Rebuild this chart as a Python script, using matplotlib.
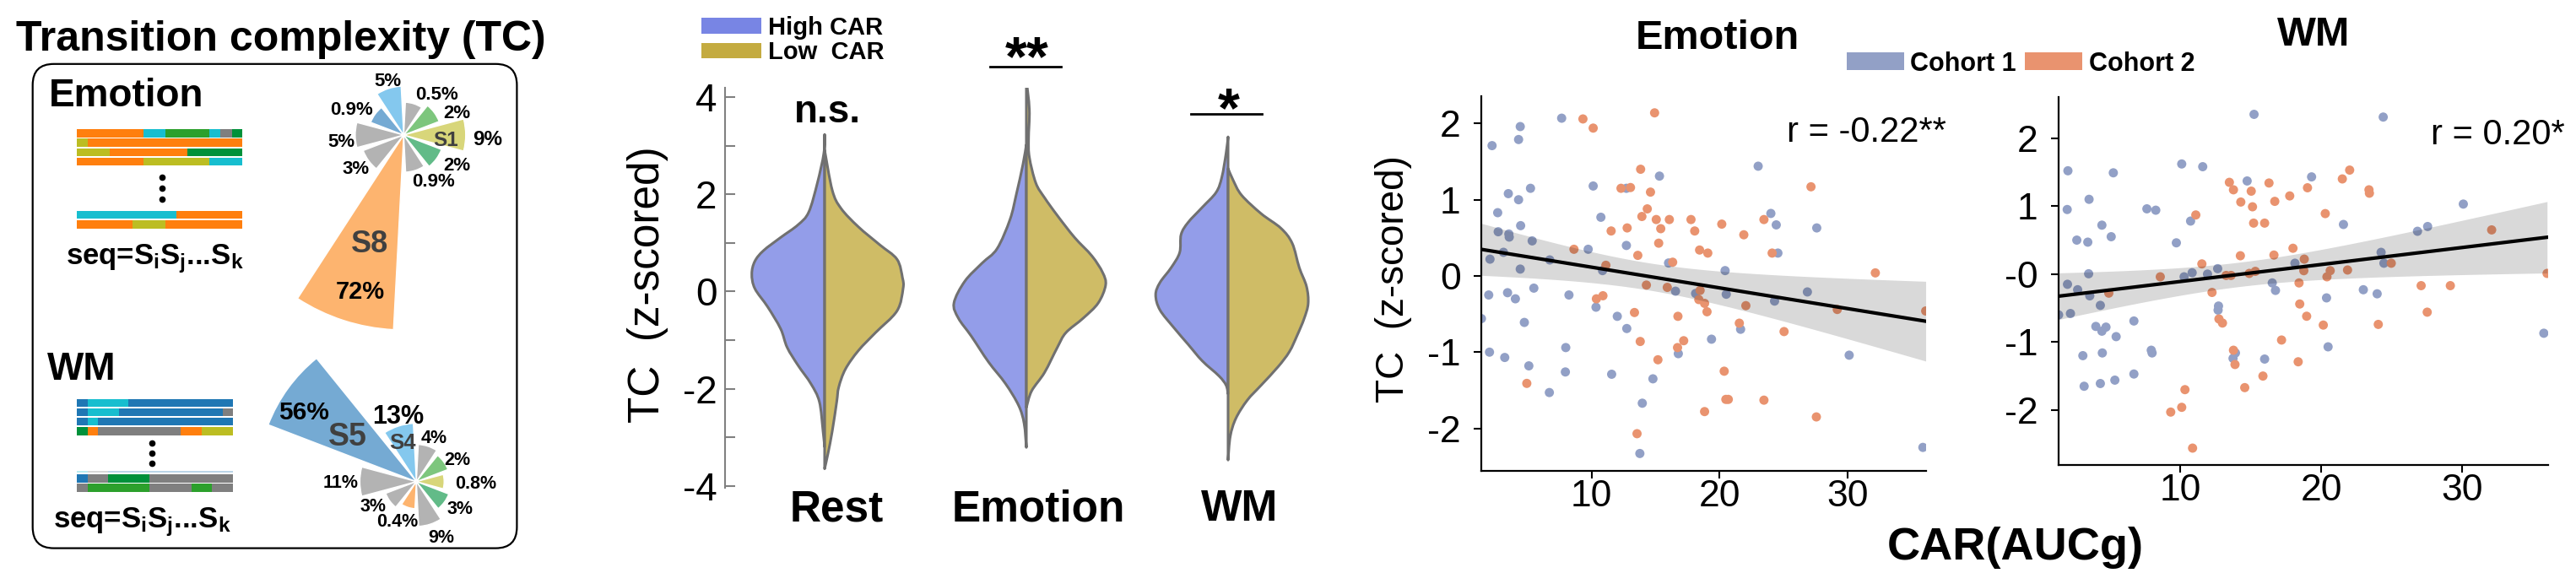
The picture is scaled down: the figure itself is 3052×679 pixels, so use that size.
import numpy as np
import matplotlib
matplotlib.use('Agg')
import matplotlib.pyplot as plt
from matplotlib.patches import Patch, FancyBboxPatch, PathPatch
from matplotlib.path import Path
import matplotlib.transforms as mtransforms
from matplotlib.colors import to_rgba

plt.rcParams['font.family'] = ['Liberation Sans', 'DejaVu Sans']
plt.rcParams['mathtext.fontset'] = 'custom'
plt.rcParams['mathtext.rm'] = 'Liberation Sans:bold'
plt.rcParams['mathtext.it'] = 'Liberation Sans:bold'
plt.rcParams['mathtext.bf'] = 'Liberation Sans:bold'

# ====================== DATA ======================
# --- left schematic: state sequences (segment boundaries as fractions, state colours)
emo_seq_bounds = [[0, .403, .536, .803, .867, .939, 1], [0, .066, 1], [0, .199, .668, 1],
                  [0, .403, .803, 1], [0, .602, 1], [0, .335, .536, 1]]
emo_seq_states = [['orange', 'cyan', 'green', 'cyan', 'gray', 'dgreen'], ['olive', 'orange'],
                  ['olive', 'orange', 'dgreen'], ['orange', 'olive', 'cyan'], ['cyan', 'orange'],
                  ['orange', 'olive', 'orange']]
wm_seq_bounds = [[0, .070, .332, 1], [0, .070, .268, .935, 1], [0, .070, .133, 1],
                 [0, .070, .133, .665, .802, 1], [0, .070, .202, .463, 1],
                 [0, .070, .463, .733, .865, 1]]
wm_seq_states = [['blue', 'cyan', 'blue'], ['blue', 'cyan', 'blue', 'gray'], ['blue', 'cyan', 'blue'],
                 ['dgreen', 'orange', 'gray', 'orange', 'olive'], ['blue', 'gray', 'dgreen', 'gray'],
                 ['gray', 'green', 'gray', 'green', 'gray']]

# --- rose charts: petal length (radial units) per 36-degree slot, labels, colours
emo_petal = [27.0, 16.5, 14.3, 21.3, 15.4, 21.1, 18.9, 84.9, 16.2, 17.6]
emo_pct = ['9%', '2%', '0.5%', '5%', '0.9%', '5%', '3%', '72%', '0.9%', '2%']
emo_petal_col = ['#d8d67a', '#7dc67d', '#b3b3b3', '#84c8ee', '#75aad3', '#b3b3b3', '#b3b3b3',
                 '#fdb46f', '#b3b3b3', '#62bb88']
wm_petal = [12.1, 14.7, 16.2, 25.4, 69.1, 24.6, 14.3, 11.8, 19.5, 15.1]
wm_pct = ['0.8%', '2%', '4%', '13%', '56%', '11%', '3%', '0.4%', '9%', '3%']
wm_petal_col = ['#d8d67a', '#7dc67d', '#b3b3b3', '#84c8ee', '#75aad3', '#b3b3b3', '#b3b3b3',
                '#fdb46f', '#b3b3b3', '#62bb88']

# --- violins: outline (y, half-width in category units)
conditions = ['Rest', 'Emotion', 'WM']
sig_labels = ['n.s.', '**', '*']
rest_hi_y = [3.23, 2.84, 2.23, 1.63, 1.37, 1.11, 0.84, 0.62, 0.36, 0.06, -0.32, -0.77, -1.15, -1.52, -1.90, -2.27, -2.87, -3.2]
rest_hi_w = [0, .004, .036, .079, .132, .218, .303, .346, .361, .346, .282, .218, .186, .132, .068, .026, .008, 0]
rest_lo_y = [2.91, 2.08, 1.71, 1.33, 0.96, 0.66, 0.28, 0.06, -0.40, -0.85, -1.22, -1.60, -1.97, -2.27, -2.87, -3.33, -3.65]
rest_lo_w = [0, .038, .081, .167, .273, .359, .386, .389, .359, .252, .167, .103, .070, .060, .038, .017, 0]
emo_hi_y = [3.02, 2.61, 2.01, 1.48, 0.88, 0.58, 0.21, -0.24, -0.55, -0.92, -1.45, -1.90, -2.35, -2.72, -3.21]
emo_hi_w = [0, .017, .049, .081, .145, .220, .305, .359, .337, .273, .188, .103, .038, .011, 0]
emo_lo_y = [4.35, 3.74, 3.14, 2.76, 2.23, 1.93, 1.56, 1.11, 0.73, 0.39, 0.13, -0.24, -0.55, -0.85, -1.15, -1.67, -2.05, -2.39]
emo_lo_w = [0, .015, .011, .015, .047, .090, .154, .239, .325, .378, .393, .356, .282, .196, .154, .090, .026, 0]
wm_hi_y = [3.18, 2.84, 2.35, 2.04, 1.73, 1.42, 1.17, 0.80, 0.49, 0.18, -0.07, -0.38, -0.75, -1.09, -1.43, -1.74, -1.93, -2.11]
wm_hi_w = [0, .010, .031, .059, .128, .198, .233, .240, .282, .338, .359, .338, .268, .198, .128, .045, .010, 0]
wm_lo_y = [2.53, 2.29, 1.98, 1.60, 1.30, 0.99, 0.49, 0.10, -0.25, -0.56, -0.90, -1.24, -1.55, -1.93, -2.24, -2.61, -2.98, -3.47]
wm_lo_w = [0, .025, .067, .164, .262, .318, .353, .389, .397, .377, .343, .304, .248, .164, .095, .039, .011, 0]

# --- scatter: CAR(AUCg) vs TC
emo_c1_x = [7.67, 4.44, 4.31, 2.24, 3.51, 4.31, 5.24, 2.68, 2.72, 3.55, 3.58, 4.47, 5.37, 3.13, 2.08, 4.44, 6.74, 1.41, 1.98, 3.45, 4.06, 5.50, 4.76, 2.04, 3.23, 5.11, 7.99, 7.96, 6.71, 8.24, 10.35, 12.01, 12.75, 10.13, 10.73, 12.72, 12.72, 9.74, 10.86, 15.30, 16.01, 16.55, 18.12, 16.77, 11.57, 14.79, 13.96, 13.77, 19.36, 20.42, 20.51, 21.63, 23.00, 23.99, 24.41, 24.54, 24.28, 26.84, 27.57, 30.10, 35.85]
emo_c1_y = [2.07, 1.96, 1.79, 1.71, 1.08, 1.00, 1.15, 0.83, 0.58, 0.55, 0.51, 0.66, 0.46, 0.31, 0.22, 0.09, 0.21, -0.56, -0.25, -0.22, -0.30, -0.16, -0.61, -1.00, -1.07, -1.18, -0.94, -1.26, -1.53, -0.25, -0.41, -0.53, -0.69, 1.18, 0.77, 0.40, 1.15, 0.35, 0.07, 1.31, 0.17, -0.20, -0.23, -1.02, -1.29, -1.35, -1.67, -2.33, -0.83, 0.07, -0.24, -0.70, 1.44, 0.82, 0.67, 0.30, -0.33, -0.21, 0.63, -1.04, -2.25]
emo_c2_x = [9.33, 10.13, 14.92, 13.83, 12.30, 13.04, 14.60, 14.35, 13.93, 15.05, 15.40, 16.07, 12.78, 11.53, 15.24, 13.61, 8.63, 11.12, 16.33, 17.76, 18.05, 20.16, 21.88, 18.43, 19.07, 23.45, 24.09, 27.12, 32.14, 14.28, 15.91, 18.47, 10.38, 10.89, 18.37, 18.82, 19.01, 13.35, 16.74, 22.04, 21.53, 25.02, 29.17, 36.07, 13.80, 16.71, 17.19, 15.18, 20.35, 4.95, 20.48, 20.67, 23.45, 18.82, 27.54, 13.55]
emo_c2_y = [2.06, 1.94, 2.14, 1.40, 1.15, 1.16, 1.10, 0.88, 0.78, 0.74, 0.62, 0.74, 0.63, 0.59, 0.43, 0.27, 0.35, 0.14, 0.18, 0.74, 0.59, 0.68, 0.54, 0.34, 0.30, 0.74, 0.30, 1.17, 0.04, -0.12, -0.15, -0.19, -0.30, -0.26, -0.31, -0.36, -0.47, -0.48, -0.53, -0.39, -0.62, -0.73, -0.44, -0.46, -0.86, -0.94, -0.85, -1.10, -1.25, -1.41, -1.62, -1.62, -1.63, -1.78, -1.85, -2.07]
wm_c1_x = [15.22, 24.38, 2.02, 5.24, 10.09, 11.58, 14.73, 19.30, 1.97, 3.52, 4.43, 5.09, 2.65, 3.43, 7.62, 8.25, 10.72, 9.71, 30.06, 21.56, 26.81, 27.53, 3.49, 1.99, 2.71, 3.57, 4.32, 1.36, 2.20, 4.00, 4.43, 4.72, 5.44, 6.70, 10.26, 10.83, 11.92, 12.64, 12.70, 12.67, 18.12, 16.51, 16.74, 20.36, 24.23, 24.43, 22.97, 23.95, 20.47, 13.73, 13.90, 15.97, 7.93, 7.99, 3.08, 4.46, 3.17, 4.32, 5.35, 6.70, 35.77]
wm_c1_y = [2.35, 2.31, 1.52, 1.49, 1.62, 1.58, 1.37, 1.43, 0.95, 1.10, 0.72, 0.55, 0.50, 0.47, 0.96, 0.94, 0.78, 0.46, 1.03, 0.73, 0.63, 0.70, 0.005, -0.15, -0.23, -0.32, -0.46, -0.60, -0.58, -0.77, -0.84, -0.78, -0.92, -0.69, -0.04, 0.02, 0.0, 0.08, -0.47, -0.53, 0.16, -0.13, -0.24, -0.35, 0.32, 0.16, -0.23, -0.29, -1.07, -1.24, -1.16, -1.25, -1.12, -1.16, -1.20, -1.16, -1.65, -1.61, -1.56, -1.47, -0.87]
wm_c2_x = [22.0, 21.48, 23.37, 23.40, 19.01, 17.75, 16.28, 13.47, 13.76, 15.02, 14.28, 15.11, 16.69, 11.09, 20.27, 15.19, 15.97, 32.07, 17.98, 16.63, 14.25, 18.78, 11.52, 8.57, 4.92, 13.24, 13.59, 14.88, 15.31, 18.75, 20.62, 20.39, 21.85, 24.95, 36.0, 12.24, 18.41, 18.46, 18.95, 20.13, 24.03, 27.07, 29.14, 27.50, 12.73, 12.98, 17.17, 13.76, 13.87, 18.35, 15.85, 14.56, 10.32, 10.09, 9.31, 10.86]
wm_c2_y = [1.53, 1.40, 1.24, 1.19, 1.27, 1.15, 1.34, 1.35, 1.24, 1.22, 1.06, 0.99, 1.07, 0.87, 0.89, 0.75, 0.75, 0.65, 0.38, 0.28, 0.27, 0.22, 0.15, -0.04, -0.28, -0.02, -0.02, 0.01, 0.04, 0.05, 0.05, -0.04, 0.06, 0.16, 0.01, -0.27, -0.13, -0.44, -0.62, -0.75, -0.74, -0.17, -0.17, -0.56, -0.66, -0.72, -0.97, -1.12, -1.33, -1.29, -1.50, -1.67, -1.70, -1.96, -2.03, -2.56]
r_labels = ['r = -0.22**', 'r = 0.20*']
scatter_xticks = [10, 20, 30]
emo_yticklabels = ['-2', '-1', '0', '1', '2']
wm_yticklabels = ['-2', '-1', '-0', '1', '2']
violin_yticklabels = ['-4', '-2', '0', '2', '4']

# ====================== STYLE ======================
STATE_COL = {'orange': '#ff7f0e', 'cyan': '#17becf', 'green': '#2ca02c', 'gray': '#7f7f7f',
             'dgreen': '#00913a', 'olive': '#bcbd22', 'blue': '#1f77b4'}
HIGH_C, LOW_C = '#7885E4', '#C4AB40'
C1_COL, C2_COL = '#92a0c6', '#e9936f'
EDGE = '#707070'
DARK = '#404040'

W, H, DPI = 3052, 679, 100
fig = plt.figure(figsize=(W / DPI, H / DPI), dpi=DPI)


def px_axes(l, t, r, b, **kw):
    return fig.add_axes([l / W, 1 - b / H, (r - l) / W, (b - t) / H], **kw)


# ---------------- rose charts ----------------
PX_PER_UNIT = 2.72


def rose(cx, cy, vals, cols):
    R = max(vals) * PX_PER_UNIT * 1.01
    ax = px_axes(cx - R, cy - R, cx + R, cy + R, projection='polar')
    th = np.deg2rad(np.arange(len(vals)) * 36.0)
    ax.bar(th, vals, width=np.deg2rad(30), bottom=0, color=cols, edgecolor='white', linewidth=1.0)
    ax.set_ylim(0, max(vals) * 1.01)
    ax.set_axis_off()
    return ax


rose(478.3, 160, emo_petal, emo_petal_col)
rose(493.3, 570.7, wm_petal, wm_petal_col)

# ---------------- violins ----------------
axV = px_axes(859, 104, 1580, 578)
VPX = 239.0
axV.set_xlim(-118 / VPX, (1580 - 977) / VPX)
axV.set_ylim(-4.04, 4.19)
for s in ['top', 'right', 'bottom']:
    axV.spines[s].set_visible(False)
axV.spines['left'].set_color('#808080')
axV.spines['left'].set_linewidth(1.5)
axV.set_xticks([])
axV.set_yticks([-4, -2, 0, 2, 4])
axV.set_yticklabels(violin_yticklabels)
axV.set_yticks([-3, -1, 1, 3], minor=True)
axV.tick_params(axis='y', which='both', direction='in', length=8.6, width=1.5, color='#808080',
                labelsize=33, pad=7)


def half_violin(ax, pos, ys, ws, side, color):
    ws = np.asarray(ws, float)
    xs = pos - ws if side == 'left' else pos + ws
    pts = np.column_stack([xs, np.asarray(ys, float)])
    n = len(pts)
    verts = [tuple(pts[0])]
    codes = [Path.MOVETO]
    for i in range(n - 1):
        p0 = pts[i - 1] if i > 0 else pts[i]
        p1, p2 = pts[i], pts[i + 1]
        p3 = pts[i + 2] if i + 2 < n else pts[i + 1]
        c1 = p1 + (p2 - p0) / 6.0
        c2 = p2 - (p3 - p1) / 6.0
        verts += [tuple(c1), tuple(c2), tuple(p2)]
        codes += [Path.CURVE4] * 3
    verts.append(tuple(pts[0]))
    codes.append(Path.CLOSEPOLY)
    patch = PathPatch(Path(verts, codes), facecolor=to_rgba(color, 0.8), edgecolor=EDGE,
                      linewidth=2.2, joinstyle='round')
    ax.add_patch(patch)


violin_data = [(rest_hi_y, rest_hi_w, rest_lo_y, rest_lo_w),
               (emo_hi_y, emo_hi_w, emo_lo_y, emo_lo_w),
               (wm_hi_y, wm_hi_w, wm_lo_y, wm_lo_w)]
for pos, (hy, hw, ly, lw) in enumerate(violin_data):
    half_violin(axV, pos, hy, hw, 'left', HIGH_C)
    half_violin(axV, pos, ly, lw, 'right', LOW_C)

# ---------------- scatter panels ----------------


def scatter_panel(box, xlim, ylim, c1x, c1y, c2x, c2y, yticklabels):
    ax = px_axes(*box)
    ax.scatter(c1x, c1y, s=62, color=C1_COL, edgecolors='none', zorder=2)
    ax.scatter(c2x, c2y, s=62, color=C2_COL, edgecolors='none', zorder=2)
    x = np.concatenate([c1x, c2x])
    y = np.concatenate([c1y, c2y])
    b1, b0 = np.polyfit(x, y, 1)
    grid = np.linspace(x.min(), x.max(), 100)
    n = len(x)
    resid = y - (b0 + b1 * x)
    s = np.sqrt(np.sum(resid ** 2) / (n - 2))
    sxx = np.sum((x - x.mean()) ** 2)
    se = s * np.sqrt(1.0 / n + (grid - x.mean()) ** 2 / sxx)
    fit = b0 + b1 * grid
    ax.fill_between(grid, fit - 1.98 * se, fit + 1.98 * se, color='black', alpha=0.15, lw=0, zorder=3)
    ax.plot(grid, fit, color='black', lw=3.0, zorder=4)
    ax.set_xlim(*xlim)
    ax.set_ylim(*ylim)
    ax.set_xticks(scatter_xticks)
    ax.set_xticklabels([str(t) for t in scatter_xticks])
    ax.set_yticks([-2, -1, 0, 1, 2])
    ax.set_yticklabels(yticklabels)
    for sp in ['top', 'right']:
        ax.spines[sp].set_visible(False)
    for sp in ['left', 'bottom']:
        ax.spines[sp].set_linewidth(1.6)
    ax.tick_params(axis='both', direction='out', length=6.5, width=1.5, labelsize=32)
    ax.tick_params(axis='y', pad=11)
    ax.tick_params(axis='x', pad=1)
    return ax


axE = scatter_panel((1755, 113.5, 2282, 557.8), (1.4, 36.1), (-2.556, 2.364),
                    emo_c1_x, emo_c1_y, emo_c2_x, emo_c2_y, emo_yticklabels)
axW = scatter_panel((2439, 114.8, 3019.4, 550.9), (1.36, 36.1), (-2.807, 2.607),
                    wm_c1_x, wm_c1_y, wm_c2_x, wm_c2_y, wm_yticklabels)

# ---------------- overlay (pixel coordinates, y down) ----------------
axO = px_axes(0, 0, W, H)
axO.set_xlim(0, W)
axO.set_ylim(H, 0)
axO.axis('off')

# left panel frame + title
axO.add_patch(FancyBboxPatch((38.7, 75.8), 573.7, 573.8, boxstyle='round,pad=0,rounding_size=25',
                             fill=False, lw=1.6, ec='black'))
axO.text(332.5, 60, 'Transition complexity (TC)', ha='center', va='baseline', fontsize=36,
         fontweight='bold')
axO.text(57.7, 125.6, 'Emotion', ha='left', va='baseline', fontsize=33, fontweight='bold')
axO.text(56, 450.4, 'WM', ha='left', va='baseline', fontsize=33, fontweight='bold')


def draw_seq(bounds, states, rows_y, x0, span, h=9.5):
    for yc, bd, st in zip(rows_y, bounds, states):
        bd = np.asarray(bd)
        axO.barh(yc, (bd[1:] - bd[:-1]) * span, left=x0 + bd[:-1] * span, height=h,
                 color=[STATE_COL[k] for k in st], edgecolor='none')


draw_seq(emo_seq_bounds, emo_seq_states, [158, 169.2, 180.4, 191.6, 254.7, 265.9], 91, 196)
draw_seq(wm_seq_bounds, wm_seq_states, [477.3, 488.5, 499.7, 510.9, 567, 578.2], 91, 185)
# faint cut-off row above the last WM rows
axO.barh(559, np.array([.070, .132, .798]) * 185, left=91 + np.array([0, .070, .202]) * 185, height=2,
         color=[STATE_COL['cyan'], STATE_COL['gray'], STATE_COL['blue']], alpha=0.3, edgecolor='none')
axO.plot([192.3] * 3, [210, 222.7, 236], 'o', color='black', ms=4.5)
axO.plot([180] * 3, [525, 536.7, 549], 'o', color='black', ms=4.5)
seq_txt = r'seq=S$_{\mathbf{i}}$S$_{\mathbf{j}}$...S$_{\mathbf{k}}$'
axO.text(78, 313.3, seq_txt, ha='left', va='baseline', fontsize=25, fontweight='bold')
axO.text(63, 625, seq_txt, ha='left', va='baseline', fontsize=25, fontweight='bold')


def ctext(x, yc, s, fs, color='black'):
    axO.text(x, yc + 0.358 * fs * DPI / 72, s, ha='center', va='baseline', fontsize=fs,
             fontweight='bold', color=color)


emo_lab_pos = [(577.3, 163.3, 17.5), (541.0, 131.7, 16), (517.3, 110, 16), (459.7, 94, 16),
               (416.3, 128.3, 16), (404.3, 165.7, 16), (422, 198.3, 16), (427.3, 343.3, 21),
               (513.7, 213.3, 16), (541.7, 194, 16)]
for (x, y, fs), s in zip(emo_lab_pos, emo_pct):
    ctext(x, y, s, fs)
ctext(527.7, 164, 'S1', 17.5, DARK)
ctext(438.3, 286, 'S8', 26, DARK)

wm_lab_pos = [(563.7, 571.7, 15.5), (542.3, 543.3, 15.5), (514.3, 517.7, 15.5), (472, 490.7, 22),
              (360.3, 486, 21.5), (404, 570.7, 15.5), (441.7, 598.7, 15.5), (471, 616, 15.5),
              (522.3, 635, 15.5), (545, 601.7, 15.5)]
for (x, y, fs), s in zip(wm_lab_pos, wm_pct):
    ctext(x, y, s, fs)
ctext(412, 515, 'S5', 27, DARK)
ctext(476.7, 522.7, 'S4', 18.5, DARK)

# violin annotations
axO.text(767, 337, 'TC  (z-scored)', rotation=90, ha='center', va='center', fontsize=37)
lab_tr = mtransforms.blended_transform_factory(axV.transData, axO.transData)
for pos, name in enumerate(conditions):
    axV.text(pos + 14 / VPX, 617, name, transform=lab_tr, ha='center', va='baseline', fontsize=37,
             fontweight='bold', clip_on=False)
axO.text(980, 145, sig_labels[0], ha='center', va='baseline', fontsize=33, fontweight='bold')
axO.text(1217, 89, sig_labels[1], ha='center', va='baseline', fontsize=48, fontweight='bold')
axO.plot([1172.8, 1257], [79.3, 79.3], color='black', lw=2)
axO.text(1456, 150, sig_labels[2], ha='center', va='baseline', fontsize=48, fontweight='bold')
axO.plot([1410.7, 1495], [135, 135], color='black', lw=2)

leg1 = axO.legend(handles=[Patch(facecolor=HIGH_C, edgecolor='none', label='High CAR'),
                           Patch(facecolor=LOW_C, edgecolor='none', label='Low  CAR')],
                  loc='upper left', bbox_to_anchor=(831, 18.7), bbox_transform=axO.transData,
                  frameon=False, prop={'size': 21, 'weight': 'bold'}, handlelength=2.43,
                  handleheight=0.61, handletextpad=0.28, labelspacing=0.05, borderpad=0,
                  borderaxespad=0)
axO.add_artist(leg1)

# scatter annotations
axO.text(2035, 58.5, 'Emotion', ha='center', va='baseline', fontsize=35, fontweight='bold')
axO.text(2741, 54, 'WM', ha='center', va='baseline', fontsize=35, fontweight='bold')
axO.text(2306, 168, r_labels[0], ha='right', va='baseline', fontsize=30)
axO.text(3038.6, 171, r_labels[1], ha='right', va='baseline', fontsize=30)
axO.text(1651, 331, 'TC  (z-scored)', rotation=90, ha='center', va='center', fontsize=33)
axO.text(2388, 662.6, 'CAR(AUCg)', ha='center', va='baseline', fontsize=39, fontweight='bold')
axO.legend(handles=[Patch(facecolor=C1_COL, edgecolor='none', label='Cohort 1'),
                    Patch(facecolor=C2_COL, edgecolor='none', label='Cohort 2')],
           loc='upper left', bbox_to_anchor=(2188, 60.6), bbox_transform=axO.transData, ncol=2,
           frameon=False, prop={'size': 22, 'weight': 'bold'}, handlelength=2.22, handleheight=0.69,
           handletextpad=0.25, columnspacing=0.33, borderpad=0, borderaxespad=0)

fig.savefig('out.png', dpi=DPI)
